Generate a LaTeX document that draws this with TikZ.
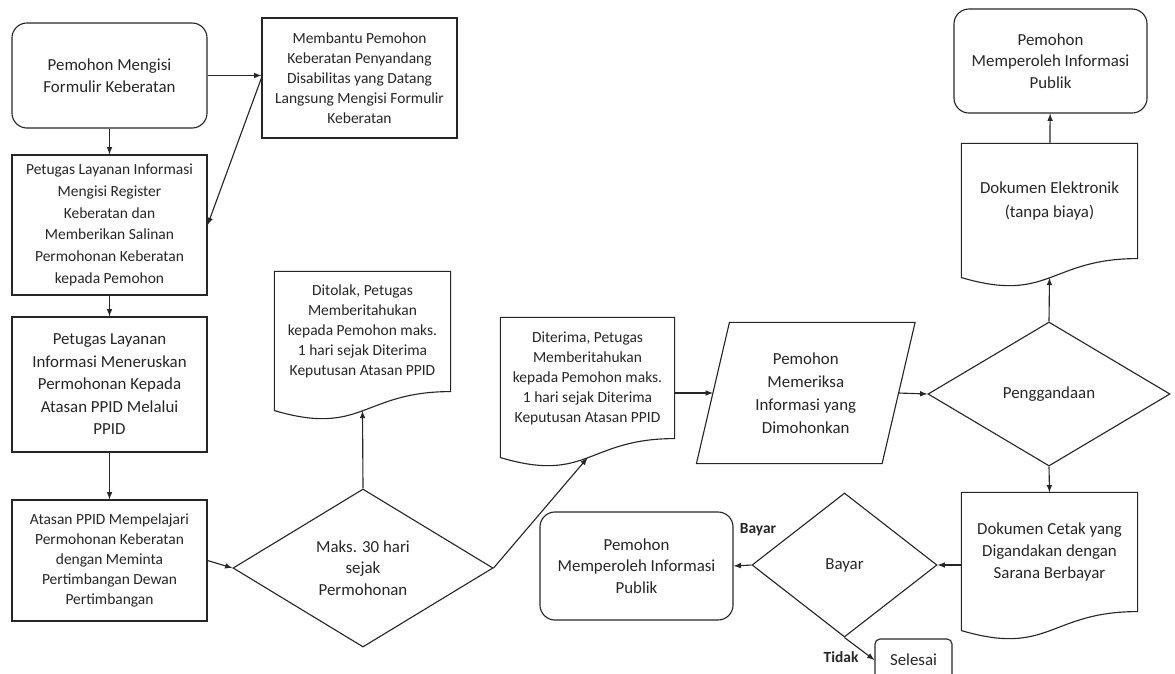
\documentclass[tikz,border=0pt]{standalone}
\usepackage{fontspec}
\setmainfont{Carlito}
\usetikzlibrary{shapes.geometric,calc}

\newcommand{\docshape}[1]{%
	\draw (#1.south east)--(#1.north east)--(#1.north west)--
		($(#1.south west)+(0,19)$) .. controls ($(#1.south)+(0,45)$) and (#1.south) .. (#1.south east)
		coordinate[pos=0.5] (#1-w) -- cycle;
}

\begin{document}
\begin{tikzpicture}[x=0.025cm, y=-0.025cm, line width=0.8pt, color=black!85,
	box/.style={draw, rectangle, inner sep=0pt, align=center},
	rbox/.style={box, rounded corners=0.375cm},
	dec/.style={draw, diamond, aspect=1.6, inner sep=0pt, align=center},
	doc/.style={rectangle, inner sep=0pt, align=center},
	f12/.style={font=\fontsize{12}{15.5}\selectfont},
	f11/.style={font=\fontsize{11}{14.2}\selectfont},
	lbl/.style={font=\bfseries\fontsize{11}{13}\selectfont}]
	\useasboundingbox (0,0) rectangle (1175,673);

	\node[rbox, f12, minimum width=4.875cm, minimum height=2.625cm] at (109.5,75.5)(form){Pemohon Mengisi\\Formulir Keberatan};
	\node[box, f11, minimum width=4.875cm, minimum height=3cm] at (359.5,78)(bantu){Membantu Pemohon\\Keberatan Penyandang\\Disabilitas yang Datang\\Langsung Mengisi Formulir\\Keberatan};
	\node[box, font=\fontsize{11}{15.5}\selectfont, minimum width=4.875cm, minimum height=3.5cm] at (109.5,225)(reg){Petugas Layanan Informasi\\Mengisi Register\\Keberatan dan\\Memberikan Salinan\\Permohonan Keberatan\\kepada Pemohon};
	\node[box, font=\fontsize{12}{16}\selectfont, minimum width=4.875cm, minimum height=3.375cm] at (109.5,384.5)(terus){Petugas Layanan\\Informasi Meneruskan\\Permohonan Kepada\\Atasan PPID Melalui\\PPID};
	\node[box, f11, minimum width=4.875cm, minimum height=3.025cm] at (109.5,560.5)(pelajari){Atasan PPID Mempelajari\\Permohonan Keberatan\\dengan Meminta\\Pertimbangan Dewan\\Pertimbangan};
	\node[dec, f12, minimum width=6.5cm, minimum height=3.95cm] at (363,568)(maks){Maks. 30 hari\\sejak\\Permohonan};

	\node[doc, f11, minimum width=4.375cm, minimum height=2.975cm] at (362.5,331.5)(tolak){Ditolak, Petugas\\Memberitahukan\\kepada Pemohon maks.\\1 hari sejak Diterima\\Keputusan Atasan PPID};
	\docshape{tolak}
	\node[doc, f11, minimum width=4.325cm, minimum height=3cm] at (587.5,378)(terima){Diterima, Petugas\\Memberitahukan\\kepada Pemohon maks.\\1 hari sejak Diterima\\Keputusan Atasan PPID};
	\docshape{terima}

	\node[doc, font=\fontsize{12}{16.5}\selectfont, minimum width=4.6125cm, minimum height=3.5cm] at (805.75,393)(periksa){Pemohon\\Memeriksa\\Informasi yang\\Dimohonkan};
	\draw ($(periksa.north west)+(16.5,0)$)--($(periksa.north east)+(16.5,0)$)--
		($(periksa.south east)+(-16.5,0)$)--($(periksa.south west)+(-16.5,0)$)--cycle;

	\node[dec, f12, minimum width=6.05cm, minimum height=3.6cm] at (1049,394)(gandakan){Penggandaan};
	\node[doc, font=\fontsize{12}{17.5}\selectfont, minimum width=4.375cm, minimum height=2.85cm] at (1049.5,201)(elektronik){Dokumen Elektronik\\(tanpa biaya)};
	\docshape{elektronik}
	\node[rbox, f12, minimum width=4.825cm, minimum height=2.6cm] at (1050.5,61)(publik1){Pemohon\\Memperoleh Informasi\\Publik};
	\node[doc, f12, minimum width=4.375cm, minimum height=2.95cm] at (1049.5,552)(cetak){Dokumen Cetak yang\\Digandakan dengan\\Sarana Berbayar};
	\docshape{cetak}

	\node[dec, f12, minimum width=4.625cm, minimum height=3.6cm] at (844.5,565)(bayar){Bayar};
	\node[rbox, f12, minimum width=4.825cm, minimum height=2.7cm] at (636.5,566)(publik2){Pemohon\\Memperoleh Informasi\\Publik};
	\node[box, f12, rounded corners=0.125cm, minimum width=1.925cm, minimum height=1.05cm] at (913.5,660)(selesai){Selesai};
	\node[lbl] at (758,530)(ya){Bayar};
	\node[lbl] at (841,657)(tidak){Tidak};

	\path[-latex] (form.east) edge (form.east -| bantu.west)
		(bantu.west) edge (reg.east)
		(form) edge (reg)
		(reg) edge (terus)
		(terus) edge (pelajari)
		(pelajari.east) edge (maks.west)
		(maks.north) edge (tolak-w)
		(maks.east) edge (terima-w)
		(terima.east |- periksa.west) edge (periksa.west)
		(periksa.east) edge (gandakan.west)
		(gandakan.north) edge (elektronik-w)
		(elektronik) edge (publik1)
		(gandakan.south) edge (cetak.north)
		(cetak.west |- bayar.east) edge (bayar.east)
		(bayar.west) edge (publik2.east)
		(bayar.south) edge (selesai.west);
\end{tikzpicture}
\end{document}
